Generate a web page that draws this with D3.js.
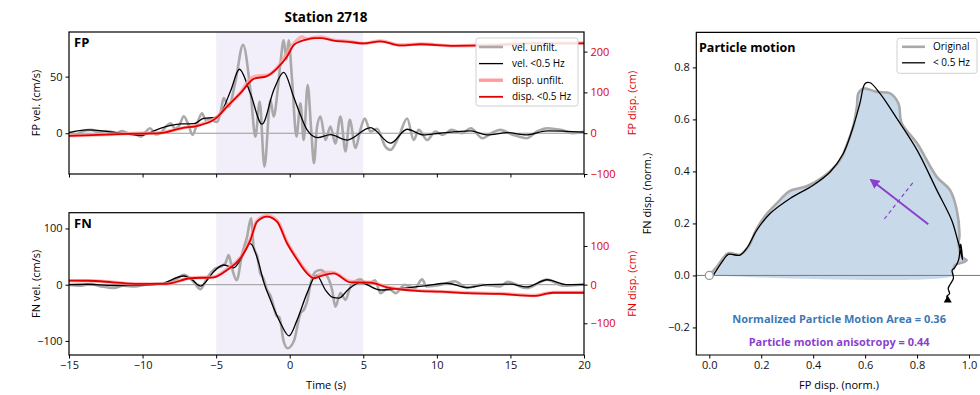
<!DOCTYPE html>
<html>
<head>
<meta charset="utf-8">
<script src="https://cdn.jsdelivr.net/npm/d3@7.9.0/dist/d3.min.js"></script>
<style>
  body { margin: 0; background: #fff; }
  svg { font-family: "Open Sans", sans-serif; }
</style>
</head>
<body>
<svg id="fig" width="980" height="395"></svg>
<script>
// ---- data (time in s) ----
const timeTicks = [-15, -10, -5, 0, 5, 10, 15, 20];
const pulseWindow = [-5, 5];

// FP component
const fpVelRaw = [[-15,1],[-14.5,-1],[-14,2],[-13.5,3],[-13,1],[-12.5,2],[-12.2,1.5],[-11.8,0],[-11.4,2],[-11,0],[-10.5,-1],[-10.1,-3],
  [-9.8,1],[-9.5,4.4],[-9.1,-1],[-8.8,0],[-8.4,6],[-8.1,8.8],[-7.8,4],[-7.5,7],[-7.2,15],[-6.9,8],[-6.6,-1.5],[-6.3,8],[-5.96,17.6],
  [-5.73,12],[-5.4,13],[-5.2,11],[-4.94,10],[-4.7,18],[-4.49,31],[-4.15,23.5],[-3.69,45.5],[-3.17,78],[-2.67,38],[-2.33,-3],[-2.04,28],
  [-1.72,-29.5],[-1.31,29.4],[-1.09,14.7],[-0.82,38],[-0.63,62],[-0.41,82],[-0.22,65],[-0.07,82],[0.16,47],[0.46,-3],[0.73,26.5],
  [0.95,-6],[1.22,42.6],[1.45,5],[1.65,-26.5],[1.85,5],[2.09,14.7],[2.43,-6],[2.77,6],[3.1,-9],[3.45,14.7],[3.79,-16],[4.08,11.8],
  [4.47,-13],[4.8,3],[5.1,13],[5.49,1.5],[5.94,4],[6.5,-11.8],[6.85,-14.7],[7.41,-3],[7.98,13],[8.43,-6],[8.77,3],[9.34,-6],[9.9,1.5],
  [10.4,-1.5],[11,3],[11.7,0],[12.3,4.4],[13.1,-4.4],[13.7,0],[14.3,3],[15.2,-1.5],[16.1,-4.4],[16.8,1.5],[17.5,4.4],[18.4,3],[19.3,0],[20,1.5]];
const fpVelLow = [[-15,0.5],[-13.8,3],[-12,1],[-10.1,-1.8],[-8.8,4.4],[-7.4,8.2],[-6.5,8.5],[-5.85,13.2],[-5.05,14],[-4.7,17.6],
  [-4.0,38],[-3.42,56.5],[-2.67,35],[-1.88,8],[-1.09,38],[-0.41,53.8],[0.27,32],[0.73,16],[1.18,3],[1.9,-3.9],[2.77,-1.2],[3.9,-6],
  [5.49,5],[6.85,-8.8],[7.98,3.5],[9.1,-1.5],[10.2,0],[12.3,2],[13.4,-1.5],[14.8,0.5],[16.1,-1.5],[17.5,2],[20,1]];
const fpDispRaw = [[-15,-6],[-13,-4],[-11.1,-1],[-8.8,1],[-7.4,12],[-6.07,21],[-5,38],[-4.26,66],[-3.35,99],[-2.6,136],[-2.3,140],
  [-1.54,142],[-0.86,160],[-0.3,190],[0.1,212],[0.5,228],[0.8,236],[1.18,231],[1.63,234],[2.09,236],[2.99,228],[4,225],[5.03,220],
  [6.17,226],[7.53,216],[8.9,219],[11.15,214],[13.4,216],[16.6,221],[20,221]];
const fpDispLow = [[-15,-6.6],[-13,-4],[-11.1,-1.7],[-8.8,0],[-7.4,12],[-6.07,20],[-5,37],[-4.26,65],[-3.35,98],[-2.45,133],
  [-1.54,140],[-0.86,159],[-0.18,188],[0.27,216],[0.73,225],[1.18,230],[1.63,233],[2.09,233],[2.99,227],[4,224],[5.03,220],
  [6.17,225],[7.53,215],[8.9,218],[11.15,214],[13.4,215],[16.6,220],[20,220]];

// FN component
const fnVelRaw = [[-15,0],[-14.3,-2],[-13.5,1],[-12.8,-3],[-12,-6],[-11.3,-2],[-10.5,-3],[-9.8,0],[-9,2],[-8.3,4],[-7.7,10],
  [-7.2,17.6],[-6.8,12],[-6.5,4],[-6.07,-8],[-5.62,11.8],[-5.05,29],[-4.7,32],[-4.37,38],[-4.15,52.8],[-3.92,29],[-3.6,8],[-3.25,53],
  [-2.9,85],[-2.63,118],[-2.45,67],[-2.2,50],[-2.0,20],[-1.8,12],[-1.54,-9.4],[-1.3,-20],[-1.1,-38],[-0.9,-55],[-0.7,-58],[-0.41,-101],
  [-0.14,-113],[0.3,-99],[0.73,-51],[0.95,-45],[1.18,-30],[1.45,5],[1.75,23],[2.09,26],[2.43,20],[2.88,-9],[3.1,-39],[3.45,-15],
  [3.79,-27],[4.13,-3.5],[4.8,9.4],[5.3,0],[5.8,8],[6.17,-15],[6.7,-6],[7.2,-15],[7.8,0],[8.5,-6],[9.0,9.4],[9.3,-3],[10.3,0],
  [11.2,6],[12.1,-6],[12.9,0],[14.3,-3],[14.8,5],[16.1,-6],[17.5,9],[18.6,-2],[20,1]];
const fnVelLow = [[-15,0],[-13.8,0.8],[-12,-1.4],[-10,-1],[-8.8,1.2],[-7.2,15.5],[-6.64,9],[-6.07,-2.5],[-5.6,8.3],[-5.17,23],
  [-4.49,35],[-3.81,30],[-3.35,44],[-2.67,73],[-2.1,38],[-1.77,5],[-1.31,-27],[-0.63,-68],[-0.05,-91],[0.5,-63],[1.18,-15],
  [1.82,17],[2.43,-9.5],[2.88,-22],[3.33,-24],[4.0,-8],[4.8,3.6],[6.17,-9.4],[7.5,-7],[9.3,-1.5],[10.7,2.6],[12.06,-5],[13.4,0],
  [15,1],[16.1,-4],[17.5,8.8],[18.8,0],[20,0]];
const fnDispRaw = [[-15,10],[-13.7,10],[-12,6],[-10.5,2],[-8.4,2],[-6.75,17],[-5.17,20],[-4.26,40],[-3.35,70],[-2.67,118],
  [-2.22,165],[-1.54,178],[-0.86,165],[-0.18,110],[0.5,68],[1.18,32],[1.63,19],[2.09,27],[2.6,32],[2.99,31],[4.13,8],[5.5,6],
  [6.6,-6],[8.66,-15],[10.2,-18],[12.06,-21],[14.3,-23],[16.6,-28],[17.9,-20],[20,-20]];
const fnDispLow = [[-15,10.3],[-13.7,10],[-12,6],[-10.5,2],[-8.4,2],[-6.75,16.5],[-5.17,19],[-4.26,38],[-3.35,68],[-2.67,115],
  [-2.22,163],[-1.54,176],[-0.86,163],[-0.18,107],[0.5,65],[1.18,29],[1.63,16.5],[2.09,22],[2.99,29],[4.13,6],[5.5,5],[6.6,-7],
  [8.66,-16],[10.2,-18],[12.06,-22],[14.3,-24],[16.6,-29],[17.9,-21],[20,-21]];

// particle motion (normalised FP disp, FN disp)
const pmRaw = [[0,0],[0.031,0.036],[0.073,0.085],[0.118,0.08],[0.15,0.11],[0.183,0.18],[0.22,0.235],[0.26,0.277],[0.311,0.325],
  [0.375,0.343],[0.439,0.379],[0.503,0.443],[0.529,0.501],[0.554,0.572],[0.568,0.648],[0.574,0.70],[0.593,0.719],[0.645,0.706],
  [0.696,0.70],[0.728,0.662],[0.741,0.585],[0.80,0.508],[0.876,0.379],[0.927,0.328],[0.953,0.251],[0.963,0.148],[0.96,0.13],
  [0.972,0.072],[0.991,0.059],[0.976,0.05],[0.946,0.04],[0.94,0.02]];
const pmLow = [[0.015,0],[0.054,0.059],[0.073,0.081],[0.118,0.078],[0.144,0.104],[0.183,0.174],[0.234,0.238],[0.311,0.296],
  [0.40,0.347],[0.465,0.398],[0.516,0.469],[0.554,0.572],[0.58,0.662],[0.60,0.738],[0.619,0.741],[0.657,0.70],[0.722,0.604],
  [0.80,0.482],[0.876,0.328],[0.933,0.213],[0.955,0.14],[0.972,0.075],[0.975,0.06],[0.968,0.12],[0.96,0.06],[0.945,0.03],
  [0.935,0.02],[0.94,-0.01],[0.93,-0.03],[0.92,-0.05],[0.925,-0.07],[0.915,-0.08],[0.918,-0.095]];
const majorAxis = [[0.843,0.197],[0.623,0.367]];
const minorAxis = [[0.674,0.217],[0.788,0.362]];
const pmArea = 0.36;
const pmAnisotropy = 0.44;

// ---- drawing ----
const svg = d3.select('#fig');
const RED = '#e00000', GRAY = '#a9a9a9', PINK = '#ff9d9d';
const x = d3.scaleLinear().domain([-15, 20]).range([69, 584]);

svg.append('text').attr('x', 326).attr('y', 22).attr('text-anchor', 'middle')
  .attr('font-size', 13.5).attr('font-weight', 'bold').text('Station 2718');

function drawPanel(o) {
  const g = svg.append('g');
  const yv = d3.scaleLinear().domain(o.velDomain).range([o.bottom, o.top]);
  const yd = d3.scaleLinear().domain(o.dispDomain).range([o.bottom, o.top]);
  const clipId = 'clip' + o.name;
  g.append('clipPath').attr('id', clipId).append('rect')
    .attr('x', x.range()[0]).attr('y', o.top).attr('width', x.range()[1] - x.range()[0]).attr('height', o.bottom - o.top);

  g.append('rect').attr('x', x(pulseWindow[0])).attr('y', o.top)
    .attr('width', x(pulseWindow[1]) - x(pulseWindow[0])).attr('height', o.bottom - o.top).attr('fill', '#f3effa');
  g.append('line').attr('x1', x.range()[0]).attr('x2', x.range()[1]).attr('y1', yv(0)).attr('y2', yv(0))
    .attr('stroke', '#999').attr('stroke-width', 1);

  const lv = d3.line().x(d => x(d[0])).y(d => yv(d[1])).curve(d3.curveMonotoneX);
  const ld = d3.line().x(d => x(d[0])).y(d => yd(d[1])).curve(d3.curveMonotoneX);
  const plot = g.append('g').attr('clip-path', `url(#${clipId})`).attr('fill', 'none');
  plot.append('path').attr('d', lv(o.velRaw)).attr('stroke', GRAY).attr('stroke-width', 2.6);
  plot.append('path').attr('d', lv(o.velLow)).attr('stroke', '#000').attr('stroke-width', 1.3);
  plot.append('path').attr('d', ld(o.dispRaw)).attr('stroke', PINK).attr('stroke-width', 3.4).attr('stroke-opacity', 0.8);
  plot.append('path').attr('d', ld(o.dispLow)).attr('stroke', RED).attr('stroke-width', 1.8);

  const ax = g.append('g').attr('transform', `translate(0,${o.bottom})`)
    .call(d3.axisBottom(x).tickValues(timeTicks).tickSize(3.5).tickPadding(3)
      .tickFormat(o.showTime ? d3.format('d') : ''));
  const axl = g.append('g').attr('transform', `translate(${x.range()[0]},0)`)
    .call(d3.axisLeft(yv).tickValues(o.velTicks).tickSize(3.5).tickPadding(3).tickFormat(d3.format('d')));
  const axr = g.append('g').attr('transform', `translate(${x.range()[1]},0)`)
    .call(d3.axisRight(yd).tickValues(o.dispTicks).tickSize(3.5).tickPadding(3).tickFormat(d3.format('d')));
  [ax, axl, axr].forEach(a => {
    a.select('.domain').remove();
    a.selectAll('text').attr('font-size', 11).attr('font-family', '"Open Sans", sans-serif').attr('fill', '#111');
    a.selectAll('line').attr('stroke', '#000');
  });
  axr.selectAll('text').attr('fill', RED);

  g.append('rect').attr('x', x.range()[0]).attr('y', o.top).attr('width', x.range()[1] - x.range()[0])
    .attr('height', o.bottom - o.top).attr('fill', 'none').attr('stroke', '#000').attr('stroke-width', 1.2);

  g.append('text').attr('x', 74).attr('y', o.top + 15).attr('font-size', 13).attr('font-weight', 'bold').text(o.name);
  const mid = (o.top + o.bottom) / 2;
  g.append('text').attr('transform', `translate(40,${mid}) rotate(-90)`).attr('text-anchor', 'middle')
    .attr('font-size', 11).text(o.velLabel);
  g.append('text').attr('transform', `translate(636,${mid}) rotate(-90)`).attr('text-anchor', 'middle')
    .attr('font-size', 11).attr('fill', RED).text(o.dispLabel);
  return g;
}

drawPanel({ name: 'FP', top: 32, bottom: 174, velDomain: [-36, 89.4], dispDomain: [-100, 248],
  velTicks: [0, 50], dispTicks: [-100, 0, 100, 200], velRaw: fpVelRaw, velLow: fpVelLow, dispRaw: fpDispRaw, dispLow: fpDispLow,
  velLabel: 'FP vel. (cm/s)', dispLabel: 'FP disp. (cm)', showTime: false });
drawPanel({ name: 'FN', top: 212.7, bottom: 355, velDomain: [-125, 128], dispDomain: [-182, 186],
  velTicks: [-100, 0, 100], dispTicks: [-100, 0, 100], velRaw: fnVelRaw, velLow: fnVelLow, dispRaw: fnDispRaw, dispLow: fnDispLow,
  velLabel: 'FN vel. (cm/s)', dispLabel: 'FN disp. (cm)', showTime: true });
svg.append('text').attr('x', 326).attr('y', 389).attr('text-anchor', 'middle').attr('font-size', 11).text('Time (s)');

// legend for the waveform panels
const legItems = [
  { label: 'vel. unfilt.', color: GRAY, w: 2.6 },
  { label: 'vel. <0.5 Hz', color: '#000', w: 1.3 },
  { label: 'disp. unfilt.', color: PINK, w: 3.4 },
  { label: 'disp. <0.5 Hz', color: RED, w: 1.8 }
];
const leg = svg.append('g').attr('transform', 'translate(476,38)');
leg.append('rect').attr('width', 102).attr('height', 68).attr('rx', 2.5)
  .attr('fill', '#fff').attr('fill-opacity', 0.85).attr('stroke', '#d0d0d0');
legItems.forEach((d, i) => {
  const yy = 9 + i * 16.6;
  leg.append('line').attr('x1', 3).attr('x2', 27).attr('y1', yy).attr('y2', yy).attr('stroke', d.color).attr('stroke-width', d.w);
  leg.append('text').attr('x', 36).attr('y', yy + 3.5).attr('font-size', 10).text(d.label);
});

// ---- particle motion panel ----
const px = d3.scaleLinear().domain([-0.05, 1.05]).range([696.3, 982]);
const py = d3.scaleLinear().domain([-0.306, 0.935]).range([355, 32.3]);
const pm = svg.append('g');
pm.append('clipPath').attr('id', 'clipPM').append('rect')
  .attr('x', 696.3).attr('y', 32.3).attr('width', 285.7).attr('height', 322.7);

const fillPts = pmRaw.filter(d => d[1] >= 0);
const lineP = d3.line().x(d => px(d[0])).y(d => py(d[1])).curve(d3.curveCatmullRom);
const pmPlot = pm.append('g').attr('clip-path', 'url(#clipPM)');
pmPlot.append('path').attr('d', lineP(fillPts.concat([[fillPts[fillPts.length - 1][0], 0]]).concat([[0, 0]])))
  .attr('fill', '#c8daea').attr('stroke', 'none');
pmPlot.append('line').attr('x1', 696.3).attr('x2', 982).attr('y1', py(0)).attr('y2', py(0))
  .attr('stroke', '#777').attr('stroke-width', 1);
pmPlot.append('path').attr('d', lineP(pmRaw)).attr('fill', 'none').attr('stroke', GRAY).attr('stroke-width', 2.6);
pmPlot.append('path').attr('d', lineP(pmLow)).attr('fill', 'none').attr('stroke', '#000').attr('stroke-width', 1.3);
pmPlot.append('circle').attr('cx', px(pmRaw[0][0])).attr('cy', py(pmRaw[0][1])).attr('r', 4)
  .attr('fill', '#fff').attr('stroke', '#999').attr('stroke-width', 1.3);
const endPt = pmLow[pmLow.length - 1];
pmPlot.append('path').attr('d', d3.symbol(d3.symbolTriangle, 28)())
  .attr('transform', `translate(${px(endPt[0])},${py(endPt[1])})`).attr('fill', '#000');

const PURPLE = '#8a3fcf';
svg.append('defs').append('marker').attr('id', 'arrowHead').attr('viewBox', '0 0 10 10')
  .attr('refX', 8).attr('refY', 5).attr('markerWidth', 5).attr('markerHeight', 5).attr('orient', 'auto')
  .append('path').attr('d', 'M0,0 L10,5 L0,10 Z').attr('fill', PURPLE);
pmPlot.append('line').attr('x1', px(majorAxis[0][0])).attr('y1', py(majorAxis[0][1]))
  .attr('x2', px(majorAxis[1][0])).attr('y2', py(majorAxis[1][1]))
  .attr('stroke', PURPLE).attr('stroke-width', 2).attr('marker-end', 'url(#arrowHead)');
pmPlot.append('line').attr('x1', px(minorAxis[0][0])).attr('y1', py(minorAxis[0][1]))
  .attr('x2', px(minorAxis[1][0])).attr('y2', py(minorAxis[1][1]))
  .attr('stroke', PURPLE).attr('stroke-width', 1.2).attr('stroke-dasharray', '4,3');

const pax = pm.append('g').attr('transform', 'translate(0,355)')
  .call(d3.axisBottom(px).tickValues([0, 0.2, 0.4, 0.6, 0.8, 1.0]).tickSize(3.5).tickPadding(3).tickFormat(d3.format('.1f')));
const pay = pm.append('g').attr('transform', 'translate(696.3,0)')
  .call(d3.axisLeft(py).tickValues([-0.2, 0, 0.2, 0.4, 0.6, 0.8]).tickSize(3.5).tickPadding(3).tickFormat(d3.format('.1f')));
[pax, pay].forEach(a => {
  a.select('.domain').remove();
  a.selectAll('text').attr('font-size', 11).attr('font-family', '"Open Sans", sans-serif').attr('fill', '#111');
  a.selectAll('line').attr('stroke', '#000');
});
pm.append('path').attr('d', 'M982,32.3 H696.3 V355 H982').attr('fill', 'none').attr('stroke', '#000').attr('stroke-width', 1.2);

pm.append('text').attr('x', 699).attr('y', 52).attr('font-size', 12.5).attr('font-weight', 'bold').text('Particle motion');
pm.append('text').attr('transform', 'translate(651,193.6) rotate(-90)').attr('text-anchor', 'middle')
  .attr('font-size', 11).text('FN disp. (norm.)');
pm.append('text').attr('x', 839).attr('y', 389).attr('text-anchor', 'middle').attr('font-size', 11).text('FP disp. (norm.)');

pm.append('text').attr('x', px(0.5)).attr('y', py(-0.168)).attr('dy', '0.35em').attr('text-anchor', 'middle')
  .attr('font-size', 11).attr('font-weight', 'bold').attr('fill', '#3c78b8')
  .text(`Normalized Particle Motion Area = ${pmArea.toFixed(2)}`);
pm.append('text').attr('x', px(0.5)).attr('y', py(-0.257)).attr('dy', '0.35em').attr('text-anchor', 'middle')
  .attr('font-size', 11).attr('font-weight', 'bold').attr('fill', PURPLE)
  .text(`Particle motion anisotropy = ${pmAnisotropy.toFixed(2)}`);

const pmLeg = svg.append('g').attr('transform', 'translate(897,38.3)');
pmLeg.append('rect').attr('width', 80).attr('height', 35).attr('rx', 2.5)
  .attr('fill', '#fff').attr('fill-opacity', 0.85).attr('stroke', '#d0d0d0');
[{ label: 'Original', color: GRAY, w: 2.6 }, { label: '< 0.5 Hz', color: '#000', w: 1.3 }].forEach((d, i) => {
  const yy = 8.5 + i * 16;
  pmLeg.append('line').attr('x1', 5).attr('x2', 28).attr('y1', yy).attr('y2', yy).attr('stroke', d.color).attr('stroke-width', d.w);
  pmLeg.append('text').attr('x', 36).attr('y', yy + 3.5).attr('font-size', 10).text(d.label);
});
</script>
</body>
</html>
